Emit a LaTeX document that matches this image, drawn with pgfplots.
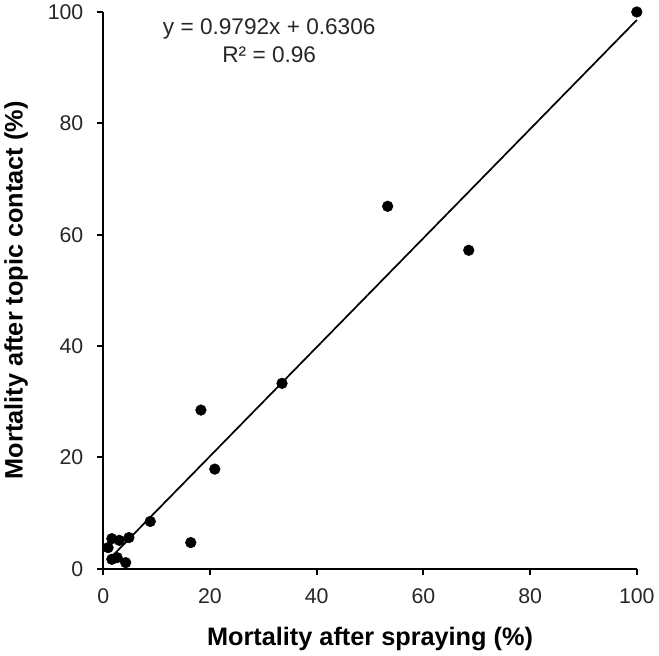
\documentclass[border=0pt]{standalone}
\usepackage{pgfplots}
\pgfplotsset{compat=1.18}
\usepackage{fontspec}
\setmainfont{Liberation Sans}
\begin{document}
\begin{tikzpicture}[x=1pt,y=1pt]
\begin{axis}[
  scale only axis,
  width=401pt, height=418.5pt,
  xmin=0, xmax=100, ymin=0, ymax=100,
  axis x line*=bottom, axis y line*=left,
  axis line style={line width=1.4pt},
  xtick={0,20,...,100}, ytick={0,20,...,100},
  tick style={line width=1.4pt, black},
  tick align=outside, major tick length=4.5pt,
  /pgf/number format/assume math mode=true,
  ticklabel style={font=\fontsize{16}{19}\selectfont, text=black!85},
  xticklabel shift=7pt, yticklabel shift=7pt,
  xlabel={\textbf{Mortality after spraying (\%)}},
  ylabel={\textbf{Mortality after topic contact (\%)}},
  label style={font=\fontsize{19}{22}\selectfont},
  xlabel style={yshift=-11pt},
  ylabel style={yshift=8pt},
  clip=false,
]
\addplot[only marks, mark=*, mark size=4pt, black] coordinates {
(8.8,8.5) (16.4,4.7) (4.8,5.6) (3.0,5.1) (1.6,5.4) (0.9,3.8) (1.6,1.7) (2.6,2.0) (4.2,1.1)
(18.3,28.5) (20.9,17.9) (33.5,33.3) (53.3,65.1) (68.5,57.2) (100,100)
};
\addplot[black, line width=1.3pt, domain=0.9:100, samples=2] {0.9792*x+0.6306};
\node[font=\fontsize{17}{21}\selectfont, align=center, text=black!85] at (axis cs:31.1,94.8) {y = 0.9792x + 0.6306\\R² = 0.96};
\end{axis}
\end{tikzpicture}
\end{document}
